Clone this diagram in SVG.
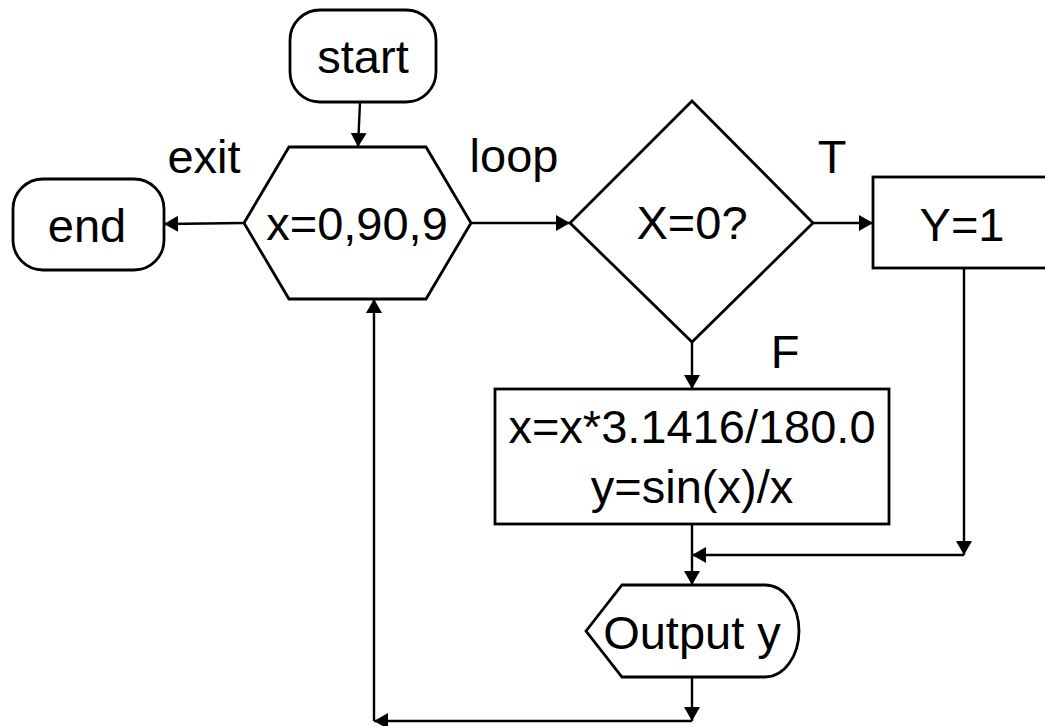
<svg xmlns="http://www.w3.org/2000/svg" width="1045" height="726" viewBox="0 0 1045 726">
<style>
.s{fill:#fff;stroke:#000;stroke-width:2.8}
.t{font-family:"Liberation Sans",Arial,sans-serif;font-size:47px;fill:#000;text-anchor:middle}
.c{fill:none;stroke:#000;stroke-width:2.4}
</style>
<defs>
<marker id="a" markerUnits="userSpaceOnUse" markerWidth="16" markerHeight="16" refX="14" refY="8" orient="auto">
<path d="M0,0 L14,8 L0,16 Z" fill="#000"/>
</marker>
</defs>
<rect width="1045" height="726" fill="#fff"/>
<g id="start"><rect class="s" x="290" y="10" width="146" height="92" rx="30" ry="30"/><text class="t" x="363" y="73">start</text></g>
<g id="loop"><polygon class="s" points="244,223 289,147 426,147 471,223 426,299 289,299"/><text class="t" x="357" y="240">x=0,90,9</text></g>
<g id="end"><rect class="s" x="13" y="179" width="151" height="91" rx="30" ry="30"/><text class="t" x="87" y="242">end</text></g>
<g id="cond"><polygon class="s" points="570,223 692,101 813,223 692,342"/><text class="t" x="692" y="239">X=0?</text></g>
<g id="y1"><rect class="s" x="873" y="177" width="180" height="91"/><text class="t" x="962" y="241">Y=1</text></g>
<g id="calc"><rect class="s" x="495" y="389" width="394" height="135"/><text class="t" x="692" y="443">x=x*3.1416/180.0</text><text class="t" x="692" y="503">y=sin(x)/x</text></g>
<g id="out"><path class="s" d="M586,631 L622,585 L765,585 A34,46 0 0 1 765,677 L622,677 Z"/><text class="t" x="692" y="649">Output y</text></g>
<g id="labels">
<text class="t" x="204" y="173">exit</text>
<text class="t" x="514" y="172">loop</text>
<text class="t" x="832" y="173">T</text>
<text class="t" x="785" y="368">F</text>
</g>
<g id="connectors">
<path class="c" d="M360,102 L358,147" marker-end="url(#a)"/>
<path class="c" d="M244,223 L164,224" marker-end="url(#a)"/>
<path class="c" d="M471,223 L570,223" marker-end="url(#a)"/>
<path class="c" d="M813,223 L873,223" marker-end="url(#a)"/>
<path class="c" d="M692,342 L692,389" marker-end="url(#a)"/>
<path class="c" d="M964,268 L964,555" marker-end="url(#a)"/>
<path class="c" d="M964,555 L692,555" marker-end="url(#a)"/>
<path class="c" d="M692,524 L692,585" marker-end="url(#a)"/>
<path class="c" d="M692,677 L692,721" marker-end="url(#a)"/>
<path class="c" d="M692,721 L374,721" marker-end="url(#a)"/>
<path class="c" d="M374,721 L374,299" marker-end="url(#a)"/>
</g>
</svg>
